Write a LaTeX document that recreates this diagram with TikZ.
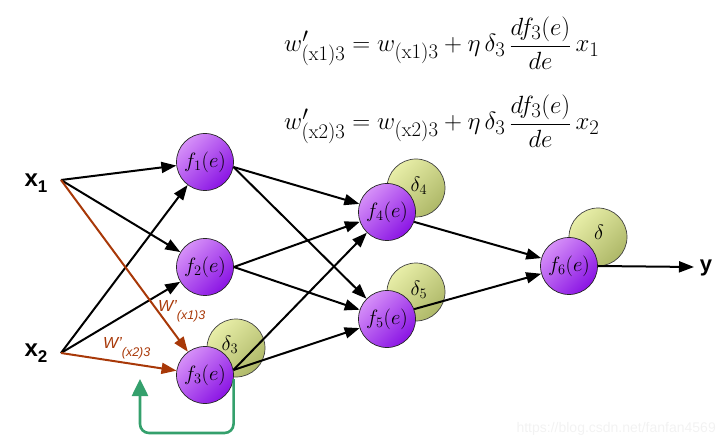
\documentclass[tikz,border=0pt]{standalone}
\usepackage{fontspec}
\setsansfont{Liberation Sans}
\usetikzlibrary{arrows.meta}
\definecolor{purL}{HTML}{D690F8}
\definecolor{purD}{HTML}{8A14E4}
\definecolor{grnL}{HTML}{E8EEA8}
\definecolor{grnD}{HTML}{AEB868}
\definecolor{brn}{RGB}{168,56,8}
\definecolor{fbgreen}{RGB}{52,160,108}
\begin{document}
\begin{tikzpicture}[x=1pt,y=-1pt,
  neuron/.style={circle, draw=black!85, line width=0.7pt, minimum size=57pt, inner sep=0pt,
    top color=purL, bottom color=purD, shading angle=45, font=\fontsize{22}{23}\selectfont},
  deltac/.style={circle, draw=black!75, line width=0.7pt, minimum size=58pt, inner sep=0pt,
    top color=grnL, bottom color=grnD, shading angle=45},
  deltat/.style={inner sep=0pt, font=\fontsize{22}{23}\selectfont},
  inlabel/.style={inner sep=0pt, font=\sffamily\bfseries\fontsize{24}{26}\selectfont},
  conn/.style={line width=2pt, -{Triangle[length=15pt,width=11pt]}},
  wconn/.style={conn, draw=brn},
  wlabel/.style={inner sep=0pt, text=brn, font=\sffamily\itshape\fontsize{16}{17}\selectfont},
  fb/.style={line width=2.6pt, draw=fbgreen, rounded corners=9pt, -{Triangle[length=17pt,width=16pt]}},
  eq/.style={inner sep=0pt, anchor=base west, font=\fontsize{28.5}{30}\selectfont}
]
\useasboundingbox (0,0) rectangle (725,446);

% delta circles (behind)
\node[deltac] (d3) at (236,348) {};
\node[deltac] (d4) at (416,188) {};
\node[deltac] (d5) at (416,292) {};
\node[deltac] (d6) at (598,237) {};
\node[deltat] (d3t) at (230,345) {$\delta_3$};
\node[deltat] (d4t) at (419,186) {$\delta_4$};
\node[deltat] (d5t) at (419,290) {$\delta_5$};
\node[deltat] (d6t) at (599,232) {$\delta$};

% neurons
\node[neuron] (f1) at (205,162) {$f_1(e)$};
\node[neuron] (f2) at (205,267) {$f_2(e)$};
\node[neuron] (f3) at (205,375) {$f_3(e)$};
\node[neuron] (f4) at (387,212) {$f_4(e)$};
\node[neuron] (f5) at (387,319) {$f_5(e)$};
\node[neuron] (f6) at (569,266) {$f_6(e)$};

% inputs / output
\node[inlabel] (x1) at (36,183) {x\raisebox{-6pt}{\fontsize{17}{18}\selectfont 1}};
\node[inlabel] (x2) at (36,353) {x\raisebox{-6pt}{\fontsize{17}{18}\selectfont 2}};
\coordinate (x1p) at (61,180);
\coordinate (x2p) at (61,353);
\node[inlabel, font=\sffamily\bfseries\fontsize{22}{24}\selectfont] (y) at (706,268) {y};
\coordinate (yp) at (694,267);

% input connections
\draw[conn] (x1p) -- (f1);
\draw[conn] (x1p) -- (f2);
\draw[conn] (x2p) -- (f1);
\draw[conn] (x2p) -- (f2);
\draw[wconn] (x1p) -- (f3);
\draw[wconn] (x2p) -- (f3);

% hidden connections
\draw[conn] (f1.-10) -- (f4);
\draw[conn] (f1.-10) -- (f5);
\draw[conn] (f2.east) -- (f4);
\draw[conn] (f2.east) -- (f5);
\draw[conn] (f3.10) -- (f4);
\draw[conn] (f3.10) -- (f5);
\draw[conn] (f4.-20) -- (f6);
\draw[conn] (f5.20) -- (f6);
\draw[conn] (f6.east) -- (yp);

% weight labels
\node[wlabel, anchor=base west] (w13) at (158,311) {W'\raisebox{-8pt}{\fontsize{12.5}{13}\selectfont (x1)3}};
\node[wlabel, anchor=base west] (w23) at (103,348) {W'\raisebox{-8pt}{\fontsize{12.5}{13}\selectfont (x2)3}};

% feedback
\coordinate (fbc) at (140,433);
\coordinate (fbt) at (140,379);
\draw[fb] (f3.-8) |- (fbc) -- (fbt);

% equations
\node[eq] (eq1) at (284,52) {$w'_{(\mathrm{x}1)3} = w_{(\mathrm{x}1)3} + \eta\,\delta_3\,{\displaystyle\frac{df_3(e)}{de}}\,x_1$};
\node[eq] (eq2) at (284,130) {$w'_{(\mathrm{x}2)3} = w_{(\mathrm{x}2)3} + \eta\,\delta_3\,{\displaystyle\frac{df_3(e)}{de}}\,x_2$};

% watermark
\node[inner sep=0pt, anchor=base east, text=black!5, font=\sffamily\fontsize{14}{15}\selectfont] (wm) at (716,432) {https://blog.csdn.net/fanfan4569};
\end{tikzpicture}
\end{document}
